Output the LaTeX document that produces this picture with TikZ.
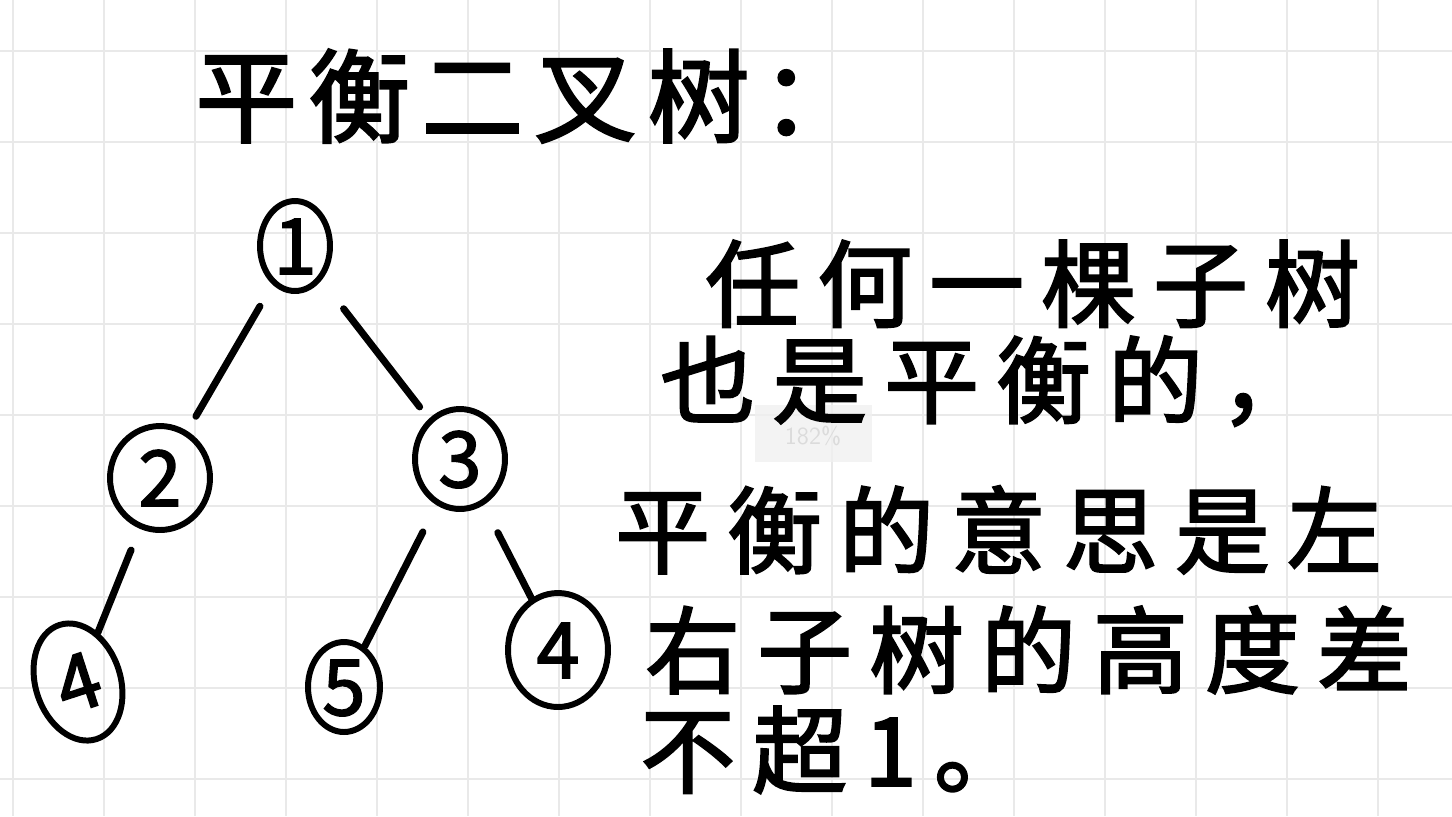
\documentclass[tikz,border=0pt]{standalone}
\usepackage{fontspec}
\usepackage{xcolor}
\usetikzlibrary{shapes.geometric}
\usetikzlibrary{positioning}
\newfontfamily\cjk{Noto Sans CJK SC}[FakeBold=2.2]
\definecolor{gridgray}{HTML}{E9E9E9}
\tikzset{
	treenode/.style={ellipse, draw=black, line width=3.4pt, inner sep=0pt,
		text height=32pt, text depth=0pt, font=\cjk\fontsize{44}{44}\selectfont},
	treeedge/.style={line width=4pt, line cap=round},
	hand/.style={anchor=west, inner sep=0pt, text depth=0pt, font=\cjk\fontsize{54}{54}\selectfont\addfontfeature{LetterSpace=18}}
}

\begin{document}
\begin{tikzpicture}[x=0.02cm,y=-0.02cm]
			% page and grid
			\fill[white] (0,0) rectangle (1452,816);
			\useasboundingbox (0,0) rectangle (1452,816);
			\foreach \gx in {13,104,...,1452}
				\draw[gridgray, line width=1.1pt] (\gx,0) -- (\gx,816);
			\foreach \gy in {51,142,...,816}
				\draw[gridgray, line width=1.1pt] (0,\gy) -- (1452,\gy);
			% zoom badge left on the page
			\fill[black!6, opacity=0.8] (755,405) rectangle (872,462);
			\node[text=black!14, inner sep=1pt, font=\sffamily\fontsize{14}{14}\selectfont] (badge) at (813,436) {182\%};
			
			% title
			\node[hand, font=\cjk\fontsize{58}{58}\selectfont\addfontfeature{LetterSpace=11}] (title) at (195,92) {平衡二叉树：};
			
			% draw tree
			\node[treenode, minimum width=1.4cm, minimum height=1.8cm] (n1) at (295,246) {1};
			\node[treenode, minimum width=2.0cm, minimum height=2.08cm] (n2) at (160,478) {2};
			\node[treenode, minimum width=1.8cm, minimum height=2.0cm] (n3) at (460,459) {3};
			\node[treenode, minimum width=1.7cm, minimum height=2.4cm, rotate=18] (n4) at (78,682) {4};
			\node[treenode, minimum width=1.44cm, minimum height=1.8cm] (n5) at (344,687) {5};
			\node[treenode, minimum width=2.0cm, minimum height=2.28cm] (n6) at (558,650) {4};
			
			\draw[treeedge, shorten <=0.5cm, shorten >=0.34cm] (n1) -- (n2);
			\draw[treeedge, shorten <=0.72cm, shorten >=0.3cm] (n1) -- (n3);
			\draw[treeedge, shorten <=0.46cm, shorten >=0cm] (n2) -- (n4);
			\draw[treeedge, shorten <=0.6cm, shorten >=0cm] (n3) -- (n5);
			\draw[treeedge, shorten <=0.62cm, shorten >=0cm] (n3) -- (n6);
			
			% note on the right
			\node[hand] (line1) at (705,280) {任何一棵子树};
			\node[hand] (line2) at (660,376) {也是平衡的，};
			\node[hand] (line3) at (615,526) {平衡的意思是左};
			\node[hand] (line4) at (645,646) {右子树的高度差};
			\node[hand] (line5) at (640,746) {不超1。};
		\end{tikzpicture}
\end{document}
